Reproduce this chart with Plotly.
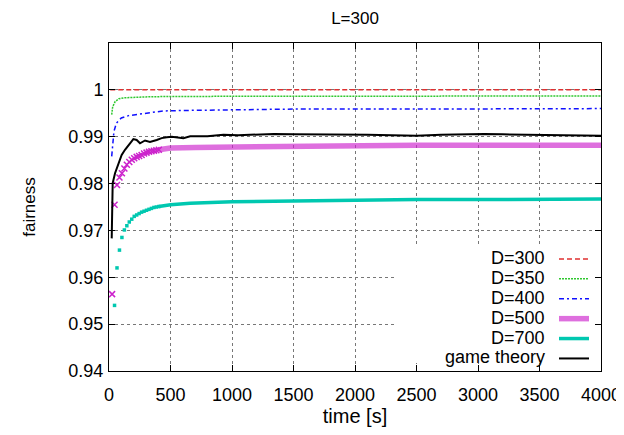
import plotly.graph_objects as go

# ---- data ----
t_d300 = [10, 4000]
f_d300 = [1.0, 1.0]

t_d350 = [22, 30, 50, 80, 120, 180, 300, 500, 1000, 2000, 3000, 4000]
f_d350 = [0.9947, 0.9964, 0.9975, 0.9981, 0.9983, 0.9984, 0.9985, 0.9986, 0.9986, 0.9987, 0.9987, 0.9987]

t_d400 = [22, 30, 40, 60, 100, 160, 240, 320, 440, 600, 1000, 1500, 2500, 4000]
f_d400 = [0.9858, 0.9886, 0.9911, 0.9929, 0.9940, 0.9945, 0.9948, 0.9952, 0.9955, 0.9956, 0.9957, 0.9959, 0.9959, 0.9960]

# D=500: early sparse points and dense band
t_d500_pts = [25, 45, 65, 85, 105, 125, 145, 165, 185, 205, 225, 245, 265, 285, 305, 325, 345, 365, 385, 405]
f_d500_pts = [0.9564, 0.9755, 0.9797, 0.9813, 0.9822, 0.9832, 0.9840, 0.9846, 0.9851, 0.9854,
              0.9857, 0.9859, 0.9861, 0.9864, 0.9866, 0.9868, 0.9869, 0.9870, 0.9871, 0.9872]
t_d500_band = [405, 500, 700, 1000, 1500, 2000, 2500, 3000, 3500, 4000]
f_d500_band = [0.9872, 0.9876, 0.9877, 0.9878, 0.9880, 0.9881, 0.9882, 0.9882, 0.9882, 0.9882]

# D=700: early sparse points and dense band
t_d700_pts = [45, 65, 85, 105, 125, 145, 165, 185, 205, 225, 245, 265, 285, 305, 325, 345, 365, 385, 405]
f_d700_pts = [0.9540, 0.9620, 0.9658, 0.9685, 0.9701, 0.9710, 0.9718, 0.9724, 0.9730, 0.9733,
              0.9736, 0.9739, 0.9741, 0.9743, 0.9745, 0.9747, 0.9749, 0.9750, 0.9751]
t_d700_band = [405, 500, 660, 1000, 1500, 2000, 2500, 3000, 4000]
f_d700_band = [0.9751, 0.9755, 0.9758, 0.9761, 0.9763, 0.9765, 0.9766, 0.9766, 0.9767]

t_game = [22, 26, 30, 49, 76, 103, 130, 171, 198, 225, 252, 293, 333, 388, 428, 470, 510, 605, 660,
          800, 930, 1050, 1200, 1340, 1500, 1700, 1900, 2100, 2300, 2500, 2700, 2900, 3050, 3200,
          3400, 3600, 3800, 4000]
f_game = [0.9683, 0.9760, 0.9801, 0.9822, 0.9844, 0.9861, 0.9872, 0.9886, 0.9895, 0.9893, 0.9886,
          0.9892, 0.9889, 0.9893, 0.9897, 0.9899, 0.9900, 0.9897, 0.9901, 0.9901, 0.9904, 0.9903,
          0.9904, 0.9906, 0.9905, 0.9905, 0.9904, 0.9904, 0.9903, 0.9902, 0.9904, 0.9905, 0.9906,
          0.9905, 0.9904, 0.9904, 0.9903, 0.9902]

x_ticks = [0, 500, 1000, 1500, 2000, 2500, 3000, 3500, 4000]
y_ticks = [0.94, 0.95, 0.96, 0.97, 0.98, 0.99, 1.0]
y_tick_labels = ["0.94", "0.95", "0.96", "0.97", "0.98", "0.99", "1"]

legend_labels = ["D=300", "D=350", "D=400", "D=500", "D=700", "game theory"]

RED = "#e03030"
GREEN = "#30c830"
BLUE = "#1010ff"
MAGENTA = "#cc22cc"
CYAN = "#00c8b0"

fig = go.Figure()

# legend shows only the line samples; the labels are drawn to their left (gnuplot style)
fig.add_trace(go.Scatter(x=t_d300, y=f_d300, mode="lines", name=" ",
                         line=dict(color=RED, width=1.5, dash="5px,3px")))
fig.add_trace(go.Scatter(x=t_d350, y=f_d350, mode="lines", name=" ",
                         line=dict(color=GREEN, width=1.5, dash="2px,1px")))
fig.add_trace(go.Scatter(x=t_d400, y=f_d400, mode="lines", name=" ",
                         line=dict(color=BLUE, width=1.5, dash="5px,3px,2px,3px")))
fig.add_trace(go.Scatter(x=t_d500_band, y=f_d500_band, mode="lines", name=" ",
                         line=dict(color="rgba(204,34,204,0.65)", width=5.5), legendgroup="d500"))
fig.add_trace(go.Scatter(x=t_d500_pts, y=f_d500_pts, mode="markers", name="D=500",
                         marker=dict(symbol="x-thin", size=6, line=dict(color=MAGENTA, width=1.5)),
                         showlegend=False, legendgroup="d500"))
fig.add_trace(go.Scatter(x=t_d700_band, y=f_d700_band, mode="lines", name=" ",
                         line=dict(color=CYAN, width=3.5), legendgroup="d700"))
fig.add_trace(go.Scatter(x=t_d700_pts, y=f_d700_pts, mode="markers", name="D=700",
                         marker=dict(symbol="square", size=3.5, color=CYAN),
                         showlegend=False, legendgroup="d700"))
fig.add_trace(go.Scatter(x=t_game, y=f_game, mode="lines", name=" ",
                         line=dict(color="black", width=2)))

FONT = "Liberation Sans, Arial, Helvetica, sans-serif"

# the page body has an 8px margin, so the figure is 8px smaller in each direction
W, H = 616, 427
L, R, T, B = 101, 23, 35, 64
PX0, PX1 = 109, 601   # plot area in page pixels
PY0, PY1 = 43, 371


def px_x(px):
    return (px - PX0) / (PX1 - PX0)


def px_y(py):
    return (PY1 - py) / (PY1 - PY0)


# white key box that hides the grid behind the key
fig.add_shape(type="rect", xref="paper", yref="paper",
              x0=px_x(395), x1=px_x(593), y0=px_y(363), y1=px_y(246),
              fillcolor="white", line=dict(width=0), layer="above")

row_y = [258, 278, 298, 318, 337.5, 357]
for lab, ry in zip(legend_labels, row_y):
    fig.add_annotation(text=lab, xref="paper", yref="paper", x=px_x(547), y=px_y(ry),
                       xanchor="right", yanchor="middle", showarrow=False,
                       font=dict(size=18, family=FONT, color="black"))

fig.update_layout(
    width=W, height=H,
    margin=dict(l=L, r=R, t=T, b=B),
    plot_bgcolor="white", paper_bgcolor="white",
    font=dict(family=FONT, size=18, color="black"),
    title=dict(text="L=300", x=0.5, xref="paper", y=1 - 10 / H, yref="container",
               xanchor="center", yanchor="middle"),
    title_font_size=17,
    showlegend=True,
    legend=dict(x=px_x(554), y=px_y(244), xanchor="left", yanchor="top",
                bgcolor="rgba(0,0,0,0)", borderwidth=0, font=dict(size=13),
                tracegroupgap=0, itemwidth=30),
)

fig.update_xaxes(
    range=[0, 4000], tickvals=x_ticks, ticks="inside", ticklen=6, tickcolor="black",
    showline=True, linecolor="black", linewidth=1, mirror="allticks",
    showgrid=True, gridcolor="#777777", griddash="dot", gridwidth=1, zeroline=False,
    automargin=False, ticklabelstandoff=7,
    title=dict(text="time [s]", standoff=4, font=dict(size=20, family=FONT, color="black")),
)
fig.update_yaxes(
    range=[0.94, 1.01], tickvals=y_ticks, ticktext=y_tick_labels, ticks="inside", ticklen=6,
    tickcolor="black", showline=True, linecolor="black", linewidth=1, mirror="allticks",
    showgrid=True, gridcolor="#777777", griddash="dot", gridwidth=1, zeroline=False,
    ticklabelstandoff=1, automargin=False,
    title=dict(text="fairness", standoff=28, font=dict(size=17, family=FONT, color="black")),
)

fig.write_html("out.html")
